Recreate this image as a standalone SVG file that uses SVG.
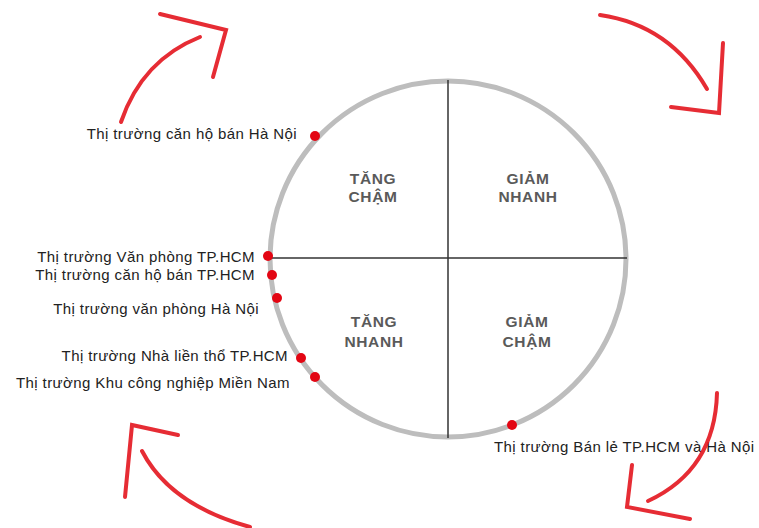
<svg xmlns="http://www.w3.org/2000/svg" width="759" height="528" viewBox="0 0 759 528">
<style>
.lbl{font-family:"Liberation Sans",Arial,sans-serif;font-size:15px;letter-spacing:0.4px;fill:#222}
.q{font-family:"Liberation Sans",Arial,sans-serif;font-size:15.5px;letter-spacing:0.6px;font-weight:bold;fill:#5a5a5a;text-anchor:middle}
.arr{fill:none;stroke:#e3151e;stroke-width:4;stroke-linecap:round;stroke-linejoin:miter;opacity:0.9}
.dot{fill:#e30613}
</style>
<rect width="759" height="528" fill="#fff"/>
<g id="circle">
<circle cx="448" cy="259" r="178" fill="none" stroke="#bdbdbd" stroke-width="5"/>
</g>
<g id="axes" stroke="#333" stroke-width="1.5">
<line x1="268" y1="258" x2="627" y2="258"/>
<line x1="448" y1="80" x2="448" y2="438"/>
</g>
<g id="quadrants">
<g id="q-tang-cham"><text class="q" x="373" y="184">TĂNG</text><text class="q" x="373" y="202">CHẬM</text></g>
<g id="q-giam-nhanh"><text class="q" x="528" y="184">GIẢM</text><text class="q" x="528" y="202">NHANH</text></g>
<g id="q-tang-nhanh"><text class="q" x="374" y="327">TĂNG</text><text class="q" x="374" y="347">NHANH</text></g>
<g id="q-giam-cham"><text class="q" x="527" y="327">GIẢM</text><text class="q" x="527" y="347">CHẬM</text></g>
</g>
<g id="markets">
<g id="m1"><circle class="dot" cx="315" cy="136" r="5"/><text class="lbl" x="297" y="139" text-anchor="end">Thị trường căn hộ bán Hà Nội</text></g>
<g id="m2"><circle class="dot" cx="268" cy="256" r="5"/><text class="lbl" x="255" y="262" text-anchor="end">Thị trường Văn phòng TP.HCM</text></g>
<g id="m3"><circle class="dot" cx="272" cy="275" r="5"/><text class="lbl" x="255" y="280" text-anchor="end">Thị trường căn hộ bán TP.HCM</text></g>
<g id="m4"><circle class="dot" cx="277" cy="298" r="5"/><text class="lbl" x="259" y="314" text-anchor="end">Thị trường văn phòng Hà Nội</text></g>
<g id="m5"><circle class="dot" cx="301" cy="358" r="5"/><text class="lbl" x="288" y="361" text-anchor="end">Thị trường Nhà liền thổ TP.HCM</text></g>
<g id="m6"><circle class="dot" cx="315" cy="377" r="5"/><text class="lbl" x="290" y="388" text-anchor="end">Thị trường Khu công nghiệp Miền Nam</text></g>
<g id="m7"><circle class="dot" cx="512" cy="425" r="5"/><text class="lbl" x="494" y="452">Thị trường Bán lẻ TP.HCM và Hà Nội</text></g>
</g>
<g id="connectors">
<path class="arr" d="M121 122 Q142 60 200 37"/>
<path class="arr" d="M160 14 L226 30 L213 77"/>
<path class="arr" d="M600 15 Q670 25 707 89"/>
<path class="arr" d="M671 107 L719 113 L723 43"/>
<path class="arr" d="M142 451 Q170 505 250 527"/>
<path class="arr" d="M178 435 L132 425 L125 497"/>
<path class="arr" d="M717 393 Q715 470 648 501"/>
<path class="arr" d="M632 465 L627 507 L690 519"/>
</g>
</svg>
